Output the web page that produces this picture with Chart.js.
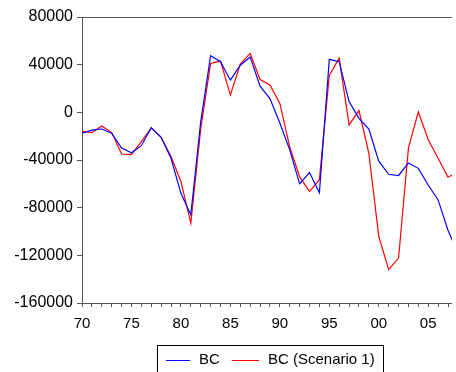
<!DOCTYPE html>
<html>
<head>
<meta charset="utf-8">
<script src="https://cdn.jsdelivr.net/npm/chart.js@4"></script>
<style>
  html, body { margin: 0; padding: 0; background: #fff; }
  #wrap { position: relative; width: 456px; height: 372px; overflow: hidden; }
  #legend {
    position: absolute; left: 157px; top: 345px; width: 227px; height: 40px;
    border: 1px solid #000; box-sizing: border-box;
    font-family: "Liberation Sans", Arial, sans-serif; font-size: 15px; color: #000;
  }
  #legend .sw { position: absolute; top: 14px; height: 1px; }
  #legend .lb { position: absolute; top: 4px; white-space: nowrap; }
</style>
</head>
<body>
<div id="wrap">
  <canvas id="chart" width="456" height="372"></canvas>
  <div id="legend">
    <span class="sw" style="left:8px;width:24px;background:#0000ff"></span>
    <span class="lb" style="left:41px">BC</span>
    <span class="sw" style="left:74px;width:27px;background:#ff0000"></span>
    <span class="lb" style="left:110px">BC (Scenario 1)</span>
  </div>
</div>
<script>
// data
const years = [1970, 1971, 1972, 1973, 1974, 1975, 1976, 1977, 1978, 1979,
  1980, 1981, 1982, 1983, 1984, 1985, 1986, 1987, 1988, 1989,
  1990, 1991, 1992, 1993, 1994, 1995, 1996, 1997, 1998, 1999,
  2000, 2001, 2002, 2003, 2004, 2005, 2006, 2007, 2008];

const bc = [-17500, -15000, -14000, -17500, -30000, -34000, -28000, -13000, -21000, -38500,
  -68000, -86000, -8000, 47500, 42500, 27000, 39500, 46500, 22000, 11500,
  -9000, -31500, -60000, -50500, -67500, 44500, 42500, 9000, -5000, -14000,
  -41000, -52000, -53000, -42500, -47000, -61000, -73500, -99000, -118000];

const bcScenario1 = [-16000, -17000, -11500, -17000, -35000, -35500, -24500, -13000, -21000, -37000,
  -58000, -93000, -14000, 41000, 43000, 14500, 40500, 49500, 27500, 23000,
  7500, -29000, -54000, -66500, -56500, 31000, 45500, -10500, 1500, -34500,
  -104000, -132000, -122500, -30000, 500, -23000, -38500, -54500, -50000];

const yTicks = [-160000, -120000, -80000, -40000, 0, 40000, 80000];

const axisColor = '#555';
const font = { family: '"Liberation Sans", Arial, sans-serif', size: 15 };

function toPoints(vals) {
  return years.map((yr, i) => ({ x: yr, y: vals[i] }));
}

// top frame line
const frame = {
  id: 'frame',
  afterDraw(chart) {
    const { ctx, chartArea } = chart;
    ctx.save();
    ctx.strokeStyle = axisColor;
    ctx.lineWidth = 1;
    ctx.beginPath();
    ctx.moveTo(chartArea.left, chartArea.top + 0.5);
    ctx.lineTo(chartArea.right, chartArea.top + 0.5);
    ctx.stroke();
    ctx.restore();
  }
};

new Chart(document.getElementById('chart'), {
  type: 'line',
  data: {
    datasets: [
      {
        label: 'BC',
        data: toPoints(bc),
        borderColor: '#0000ff',
        borderWidth: 1.2,
        pointRadius: 0,
        tension: 0,
        fill: false
      },
      {
        label: 'BC (Scenario 1)',
        data: toPoints(bcScenario1),
        borderColor: '#ff0000',
        borderWidth: 1.2,
        pointRadius: 0,
        tension: 0,
        fill: false
      }
    ]
  },
  options: {
    responsive: false,
    animation: false,
    layout: { padding: { top: 17, right: 0, left: 0, bottom: 0 } },
    plugins: { legend: { display: false }, tooltip: { enabled: false } },
    scales: {
      x: {
        type: 'linear',
        min: 1970,
        max: 2007.4,
        afterFit(scale) { scale.height = 69; },
        afterBuildTicks(scale) {
          scale.ticks = years.filter(y => y <= 2007).map(y => ({ value: y }));
        },
        border: { color: axisColor, width: 1 },
        grid: { drawOnChartArea: false, drawTicks: true, tickLength: 4, color: axisColor },
        ticks: {
          autoSkip: false,
          maxRotation: 0,
          padding: 8,
          color: '#000',
          font: font,
          callback: v => (v % 5 === 0 ? String(v % 100).padStart(2, '0') : '')
        }
      },
      y: {
        min: -160000,
        max: 80000,
        afterFit(scale) { scale.width = 82; },
        afterBuildTicks(scale) {
          scale.ticks = yTicks.map(v => ({ value: v }));
        },
        border: { color: axisColor, width: 1 },
        grid: { drawOnChartArea: false, drawTicks: true, tickLength: 5, color: axisColor },
        ticks: {
          padding: 4,
          color: '#000',
          font: { family: font.family, size: 16 },
          callback: v => String(v)
        }
      }
    }
  },
  plugins: [frame]
});
</script>
</body>
</html>
